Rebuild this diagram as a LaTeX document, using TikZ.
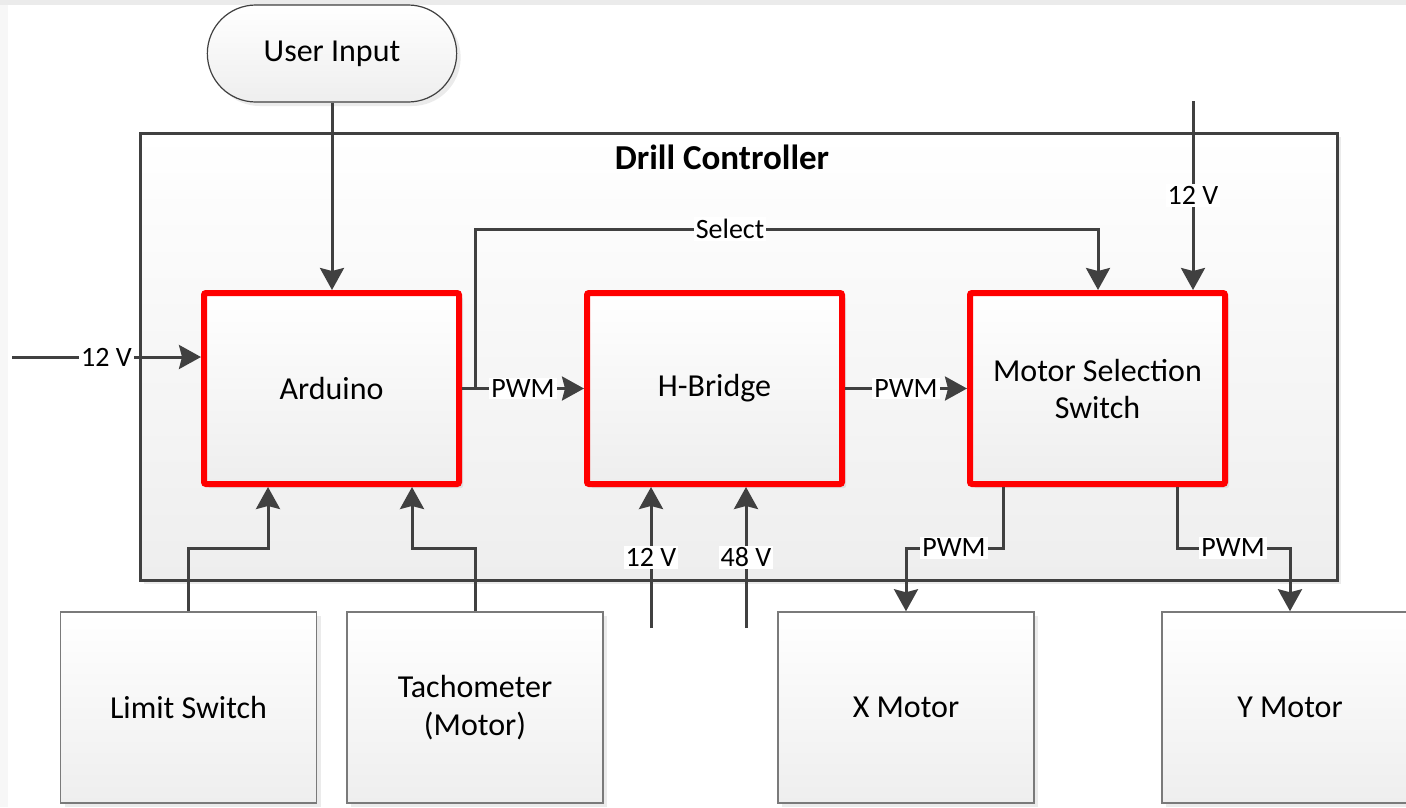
\documentclass[tikz,border=0pt]{standalone}
\usepackage{fontspec}
\setmainfont{Carlito}
\usetikzlibrary{arrows.meta,shapes.misc,shadows}
\definecolor{ln}{HTML}{404040}
\definecolor{bx}{HTML}{7A7A7A}
\definecolor{shd}{HTML}{EEEEEE}
\tikzset{
  conn/.style={draw=ln, line width=3pt},
  arr/.style={conn, -{Stealth[length=22pt,width=24pt,inset=3pt]}},
  lbl/.style={fill=white, inner sep=2pt, text=black, font=\fontsize{28}{32}\selectfont},
  sh/.style={drop shadow={shadow xshift=4pt, shadow yshift=-4pt, fill=black, opacity=0.08}},
  redbox/.style={sh, draw=red, line width=6pt, rounded corners=2pt, minimum width=255pt,
    minimum height=191pt, top color=white, bottom color=shd, align=center,
    font=\fontsize{32}{37}\selectfont},
  extbox/.style={sh, draw=bx, line width=1.5pt, minimum width=256pt, minimum height=191pt,
    top color=white, bottom color=shd, align=center, font=\fontsize{32}{38}\selectfont},
  ctrlbox/.style={sh, draw=ln, line width=3pt, minimum width=1197pt, minimum height=447pt,
    top color=white, bottom color=shd},
  termbox/.style={sh, draw=ln, line width=1.2pt, rounded rectangle, minimum width=256pt,
    minimum height=97pt, top color=white, bottom color=shd, font=\fontsize{32}{37}\selectfont},
}
\begin{document}
\begin{tikzpicture}[x=1pt,y=-1pt]
\useasboundingbox (0,0) rectangle (1406,807);
\fill[black!8] (0,0) rectangle (1406,5);
\fill[black!3] (0,5) rectangle (8,807);

\node[ctrlbox] (ctrl) at (738.5,356.5) {};
\node[font=\fontsize{35}{40}\selectfont\bfseries] (title) at (722,157) {Drill Controller};

\node[termbox] (user) at (332,53.5) {User Input};

\node[redbox] (ard) at (331.5,388.5) {Arduino};
\node[redbox] (hb) at (714.5,388.5) {H-Bridge};
\node[redbox] (mss) at (1097.5,388.5) {Motor Selection\\Switch};

\node[extbox] (lim) at (188.5,707.5) {Limit Switch};
\node[extbox] (tach) at (475,707.5) {Tachometer\\(Motor)};
\node[extbox] (xm) at (906,707.5) {X Motor};
\node[extbox] (ym) at (1290,707.5) {Y Motor};

% named coordinates for free ends and bends
\coordinate (v12l) at (12,357);
\coordinate (v12t) at (1193,101);
\coordinate (v12b) at (651,628);
\coordinate (v48b) at (746,628);
\coordinate (selA) at (475,388.5);
\coordinate (selB) at (475,229);
\coordinate (selC) at (1098,229);
\coordinate (limB) at (268,548);
\coordinate (tachB) at (412,548);
\coordinate (mxo) at (1003,548);
\coordinate (myo) at (1177,548);

% connectors
\draw[arr] (user.south) -- (user.south |- ard.north);
\draw[arr] (v12l) -- node[lbl] {12 V} (v12l -| ard.west);
\draw[arr] (ard.east) -- node[lbl] {PWM} (hb.west);
\draw[arr] (hb.east) -- node[lbl] {PWM} (mss.west);
\draw[arr] (selA) -- (selB) -- (selC) -- (selC |- mss.north);
\node[lbl] (sel) at (730,229) {Select};
\draw[arr] (v12t) -- node[lbl] {12 V} (v12t |- mss.north);
\draw[arr] (v12b) -- node[lbl] {12 V} (v12b |- hb.south);
\draw[arr] (v48b) -- node[lbl] {48 V} (v48b |- hb.south);
\draw[arr] (lim.north) |- (limB) -- (limB |- ard.south);
\draw[arr] (tach.north) |- (tachB) -- (tachB |- ard.south);
\draw[arr] (mxo |- mss.south) -- (mxo) -| (xm.north);
\node[lbl] (pwmx) at (954,548) {PWM};
\draw[arr] (myo |- mss.south) -- (myo) -| (ym.north);
\node[lbl] (pwmy) at (1233,548) {PWM};
\end{tikzpicture}
\end{document}
